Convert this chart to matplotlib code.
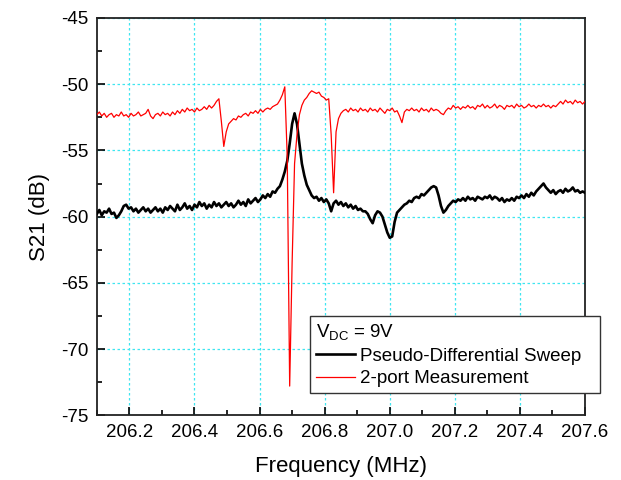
import numpy as np
import matplotlib
matplotlib.use("Agg")
import matplotlib.pyplot as plt
from matplotlib.ticker import MultipleLocator, FormatStrFormatter

plt.rcParams['font.family'] = ['Liberation Sans', 'DejaVu Sans']
plt.rcParams['mathtext.default'] = 'regular'
plt.rcParams['axes.unicode_minus'] = False

# Frequency sweep (MHz), uniform steps of 0.0075 MHz
freq_start, freq_step, n_points = 206.1, 0.0075, 201

# Pseudo-differential sweep (black), dB
s21_pseudo = [
    -59.8, -59.5, -59.9, -59.6, -59.7, -59.4, -59.8, -59.7, -60.1, -59.9,
    -59.6, -59.2, -59.1, -59.4, -59.3, -59.6, -59.4, -59.7, -59.5, -59.3,
    -59.6, -59.4, -59.7, -59.5, -59.3, -59.6, -59.4, -59.7, -59.3, -59.5,
    -59.2, -59.4, -59.6, -59.1, -59.5, -59.3, -59.0, -59.4, -59.2, -59.5,
    -59.1, -59.3, -58.9, -59.2, -59.0, -59.4, -59.1, -59.3, -58.9, -59.2,
    -59.0, -59.3, -59.1, -58.9, -59.2, -59.0, -59.3, -59.1, -58.8, -59.1,
    -58.9, -59.2, -58.7, -59.0, -58.8, -58.6, -58.9, -58.7, -58.4, -58.6,
    -58.3, -58.5, -58.1, -58.2, -57.9, -57.7, -57.2, -56.6, -55.8, -54.5,
    -53.0, -52.2, -53.0, -54.5, -56.0, -56.9, -57.6, -58.0, -58.4, -58.6,
    -58.5, -58.8, -58.6, -58.9, -58.7, -59.0, -59.6, -59.0, -58.8, -59.1,
    -58.9, -59.2, -59.0, -59.3, -59.1, -59.4, -59.2, -59.5, -59.4, -59.6,
    -59.6, -59.8, -60.2, -60.5, -59.9, -59.6, -59.7, -60.0, -60.6, -61.2,
    -61.6, -61.5, -60.4, -59.7, -59.5, -59.3, -59.1, -59.0, -58.8, -58.9,
    -58.6, -58.5, -58.6, -58.3, -58.4, -58.2, -58.0, -57.8, -57.7, -57.8,
    -58.4, -59.2, -59.7, -59.5, -59.2, -59.0, -58.8, -58.9, -58.7, -58.8,
    -58.6, -58.8, -58.5, -58.7, -58.6, -58.8, -58.5, -58.6, -58.7, -58.5,
    -58.6, -58.4, -58.7, -58.5, -58.6, -58.8, -58.6, -58.9, -58.7, -58.8,
    -58.6, -58.8, -58.5, -58.6, -58.4, -58.6, -58.3, -58.5, -58.2, -58.4,
    -58.1, -57.9, -57.7, -57.5, -57.8, -58.0, -58.2, -58.0, -58.3, -58.1,
    -58.0, -58.2, -57.9, -58.1, -58.0, -57.8, -58.1, -58.0, -58.2, -58.1,
    -58.2,
]

# 2-port measurement (red), dB
s21_2port = [
    -52.3, -52.1, -52.4, -52.2, -52.5, -52.3, -52.2, -52.5, -52.3, -52.4,
    -52.1, -52.4, -52.3, -52.5, -52.2, -52.4, -52.3, -52.1, -52.4, -52.3,
    -52.2, -51.9, -52.4, -52.6, -52.3, -52.2, -52.4, -52.1, -52.3, -52.2,
    -52.4, -52.1, -52.3, -52.0, -52.2, -51.9, -52.1, -51.8, -52.0, -51.9,
    -52.1, -51.8, -52.0, -51.9, -51.7, -51.9, -51.6, -51.8, -51.6, -51.3,
    -51.1, -52.8, -54.7, -53.6, -53.0, -52.8, -52.6, -52.7, -52.4, -52.5,
    -52.3, -52.2, -52.4, -52.1, -52.2, -52.0, -52.2, -51.9, -52.1, -51.9,
    -51.8, -51.9, -51.7, -51.6, -51.5, -51.2, -50.8, -50.2, -55.5, -72.8,
    -63.5, -56.0, -53.8, -52.3, -51.6, -51.2, -51.0, -50.7, -50.5, -50.6,
    -50.7, -50.6, -50.9, -51.0, -51.2, -51.1, -53.8, -58.2, -53.6, -52.6,
    -52.2, -52.0, -51.9, -52.1, -51.8, -52.0, -51.9, -52.1, -51.8, -52.0,
    -51.9, -52.1, -51.8, -52.0, -51.9, -52.1, -51.8, -52.0, -52.2, -51.9,
    -52.0, -51.8, -52.1, -52.0, -52.4, -52.9, -52.1, -51.9, -52.0, -51.8,
    -52.0, -51.9, -52.1, -51.8, -52.0, -51.9, -52.1, -51.8, -52.0, -51.9,
    -52.0, -52.2, -52.3, -52.0, -51.8, -51.9, -51.6, -51.8, -51.7, -51.9,
    -51.7, -51.8, -51.6, -51.8, -51.7, -51.9, -51.6, -51.7, -51.5, -51.8,
    -51.6, -51.8, -51.7, -51.5, -51.8, -51.6, -51.7, -51.9, -51.6, -51.7,
    -51.6, -51.8, -51.5, -51.7, -51.6, -51.8, -51.7, -51.5, -51.7, -51.6,
    -51.8, -51.6, -51.7, -51.5, -51.7, -51.6, -51.8, -51.6, -51.7, -51.5,
    -51.3, -51.5, -51.2, -51.4, -51.3, -51.5, -51.2, -51.4, -51.3, -51.5,
    -51.3,
]

freq = freq_start + freq_step * np.arange(n_points)

fig = plt.figure(figsize=(6.21, 4.80), dpi=100)
ax = fig.add_axes([0.156, 0.135, 0.786, 0.8275])

ax.plot(freq, s21_pseudo, color='black', lw=1.9, label='Pseudo-Differential Sweep', zorder=3)
ax.plot(freq, s21_2port, color='#ff0000', lw=0.9, label='2-port Measurement', zorder=4)

ax.set_xlim(206.1, 207.6)
ax.set_ylim(-75, -45)
ax.xaxis.set_major_locator(MultipleLocator(0.2))
ax.xaxis.set_minor_locator(MultipleLocator(0.1))
ax.xaxis.set_major_formatter(FormatStrFormatter('%.1f'))
ax.yaxis.set_major_locator(MultipleLocator(5))
ax.yaxis.set_minor_locator(MultipleLocator(2.5))
ax.tick_params(which='both', direction='in', labelsize=13.5, pad=6)
ax.tick_params(which='major', length=6, width=1.2)
ax.tick_params(which='minor', length=3.5, width=1.2)
ax.grid(True, which='major', color='#3ee6f0', linestyle=(0, (2, 2)), linewidth=0.9, zorder=0)
for s in ax.spines.values():
    s.set_linewidth(1.3)
    s.set_color('#222222')

ax.set_xlabel('Frequency (MHz)', fontsize=16, labelpad=11)
ax.set_ylabel('S21 (dB)', fontsize=16, labelpad=8)

leg = ax.legend(title=r'$\mathregular{V_{DC}}$ = 9V', loc='lower left',
                bbox_to_anchor=(0.499, 0.181, 0.467, 0.163),
                bbox_transform=fig.transFigure, mode='expand',
                fontsize=13.5, title_fontsize=13.5, frameon=True, fancybox=False,
                edgecolor='#333333', framealpha=1, handlelength=2.1,
                handletextpad=0.25, borderaxespad=0, labelspacing=0.3,
                borderpad=0.3, alignment='left')
leg.get_frame().set_linewidth(1.0)

fig.savefig('out.png', dpi=100)
